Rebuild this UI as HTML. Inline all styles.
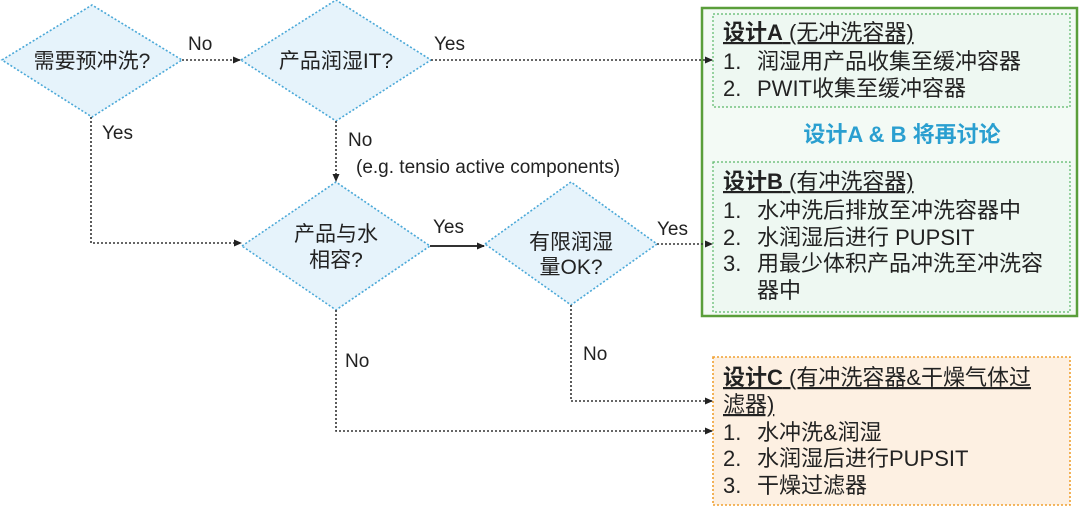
<!DOCTYPE html>
<html><head><meta charset="utf-8"><style>
html,body{margin:0;padding:0;background:#fff;}
svg{display:block;}
text{font-family:"Liberation Sans","Noto Sans CJK SC",sans-serif;fill:#222;}
</style></head><body>
<svg width="1080" height="515" viewBox="0 0 1080 515" xmlns="http://www.w3.org/2000/svg">
<defs>
<marker id="a" markerWidth="8" markerHeight="8" refX="7" refY="4" orient="auto" markerUnits="userSpaceOnUse">
<path d="M0,0.5 L8,4 L0,7.5 z" fill="#222"/></marker>
</defs>
<g fill="#e6f3fb" stroke="#4aa8d8" stroke-width="1.6" stroke-dasharray="2,2">
<polygon points="2,60 92,5 182,60 92,117"/>
<polygon points="241,60 336,0 431,60 336,121"/>
<polygon points="242,246 336,182 430,246 336,310"/>
<polygon points="485,244 571,182 657,244 571,305"/>
</g>
<rect x="702" y="8" width="375" height="308" fill="#f3faf5" stroke="#5a9e3a" stroke-width="2.5"/>
<rect x="713" y="14" width="357" height="93" fill="#eef8f2" stroke="#5cb86a" stroke-width="1.2" stroke-dasharray="2,2"/>
<rect x="713" y="162" width="357" height="150" fill="#eef8f2" stroke="#5cb86a" stroke-width="1.2" stroke-dasharray="2,2"/>
<rect x="713" y="357" width="357" height="148" fill="#fdf0e2" stroke="#f0a030" stroke-width="1.6" stroke-dasharray="2,2"/>
<g fill="none" stroke="#333" stroke-width="1.6" stroke-dasharray="2,2">
<path d="M182,60 H240" marker-end="url(#a)"/>
<path d="M431,60 H712" marker-end="url(#a)"/>
<path d="M91,117 V243 H241" marker-end="url(#a)"/>
<path d="M336,121 V181" marker-end="url(#a)"/>
<path d="M657,244 H712" marker-end="url(#a)"/>
<path d="M571,305 V401 H712" marker-end="url(#a)"/>
<path d="M336,310 V431 H712" marker-end="url(#a)"/>
</g>
<path d="M430,246 H484" stroke="#333" stroke-width="2" fill="none" marker-end="url(#a)"/>
<g font-size="21">
<text x="92" y="68" text-anchor="middle">需要预冲洗?</text>
<text x="336" y="68" text-anchor="middle">产品润湿IT?</text>
<text x="336" y="241" text-anchor="middle">产品与水</text>
<text x="336" y="267" text-anchor="middle">相容?</text>
<text x="571" y="249" text-anchor="middle">有限润湿</text>
<text x="571" y="274" text-anchor="middle">量OK?</text>
</g>
<g font-size="19">
<text x="188" y="50">No</text>
<text x="434" y="50">Yes</text>
<text x="102" y="139">Yes</text>
<text x="348" y="146">No</text>
<text x="356" y="173">(e.g. tensio active components)</text>
<text x="433" y="233">Yes</text>
<text x="657" y="235">Yes</text>
<text x="345" y="367">No</text>
<text x="583" y="360">No</text>
</g>
<g font-size="22">
<text x="723" y="40"><tspan font-weight="bold" text-decoration="underline">设计A</tspan><tspan text-decoration="underline"> (无冲洗容器)</tspan></text>
<text x="723" y="69">1.</text><text x="757" y="69">润湿用产品收集至缓冲容器</text>
<text x="723" y="96">2.</text><text x="757" y="96">PWIT收集至缓冲容器</text>
<text x="902" y="142" text-anchor="middle" font-weight="bold" style="fill:#2a9fd0">设计A &amp; B 将再讨论</text>
<text x="723" y="189"><tspan font-weight="bold" text-decoration="underline">设计B</tspan><tspan text-decoration="underline"> (有冲洗容器)</tspan></text>
<text x="723" y="218">1.</text><text x="757" y="218">水冲洗后排放至冲洗容器中</text>
<text x="723" y="245">2.</text><text x="757" y="245">水润湿后进行 PUPSIT</text>
<text x="723" y="271">3.</text><text x="757" y="271">用最少体积产品冲洗至冲洗容</text>
<text x="757" y="298">器中</text>
<text x="723" y="385"><tspan font-weight="bold" text-decoration="underline">设计C</tspan><tspan text-decoration="underline"> (有冲洗容器&amp;干燥气体过</tspan></text>
<text x="723" y="412" text-decoration="underline">滤器)</text>
<text x="723" y="440">1.</text><text x="757" y="440">水冲洗&amp;润湿</text>
<text x="723" y="466">2.</text><text x="757" y="466">水润湿后进行PUPSIT</text>
<text x="723" y="493">3.</text><text x="757" y="493">干燥过滤器</text>
</g>
</svg>
</body></html>
